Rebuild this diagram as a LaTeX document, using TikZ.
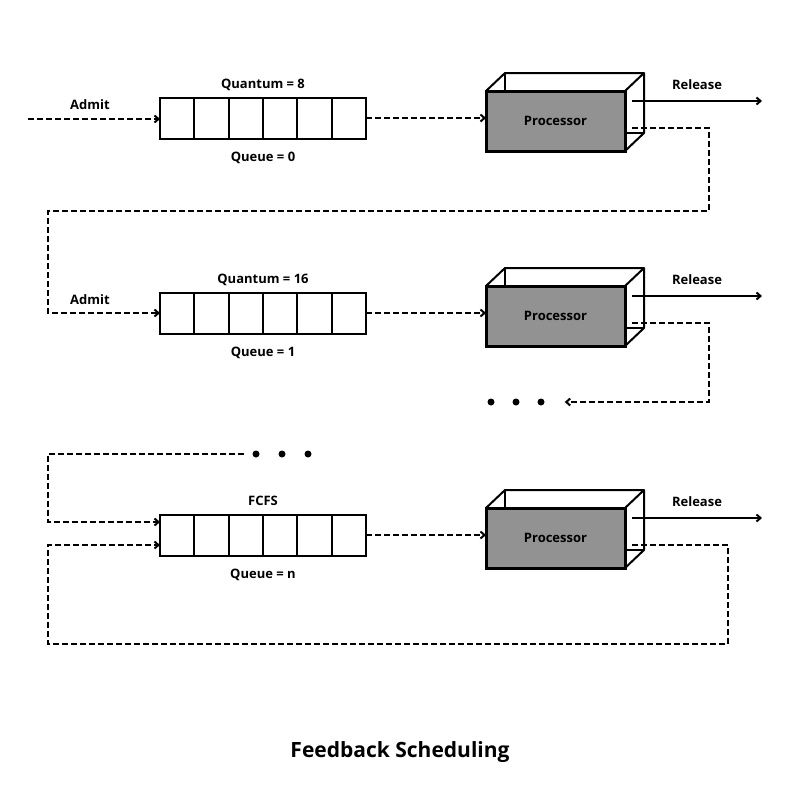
\documentclass[tikz,border=0pt]{standalone}
\usepackage{fontspec}
\setmainfont{Open Sans}
\usetikzlibrary{positioning,calc,arrows.meta}
\definecolor{cpugray}{HTML}{929292}
\tikzset{
  lbl/.style={font=\fontsize{13}{15}\selectfont\bfseries,inner sep=0pt},
  queuebox/.style={draw,line width=2pt,minimum width=206pt,minimum height=41pt,inner sep=0pt,outer sep=0pt},
  cpubox/.style={draw,line width=3pt,fill=cpugray,minimum width=139pt,minimum height=60pt,outer sep=0pt,
    font=\fontsize{13}{15}\selectfont\bfseries},
  backline/.style={line width=2pt,line join=round},
  flow/.style={line width=2pt,dash pattern=on 6pt off 3pt,-{Straight Barb[length=4pt,width=7pt]}},
  release/.style={line width=2pt,-{Straight Barb[length=4pt,width=7pt]}},
  dotmark/.style={circle,fill,inner sep=0pt,minimum size=7pt},
}
\begin{document}
\begin{tikzpicture}[x=1pt,y=-1pt]
  \useasboundingbox (0,0) rectangle (800,800);
  % queues and processors
  \foreach \n/\y in {0/118,1/313,2/535}{
    \node[queuebox] (q\n) at (263,\y) {};
    \foreach \i in {1,...,5}
      \draw[line width=2pt] ($(q\n.north west)!\i/6!(q\n.north east)$) -- ($(q\n.south west)!\i/6!(q\n.south east)$);
    \node[cpubox] (p\n) at (555.5,\y+3) {\raisebox{-3pt}{Processor}};
    \draw[backline] (p\n.north west) -- ++(19,-18) coordinate (b\n) -- ($(p\n.north east)+(19,-18)$)
      -- ($(p\n.south east)+(19,-18)$) -- (p\n.south east);
    \draw[backline] (p\n.north east) -- ++(19,-18);
    \draw[backline] (b\n) -- ++(0,18);
    \draw[backline] ($(p\n.south east)+(0,-18)$) -- ++(19,0);
    \draw[flow] (q\n.east) -- (q\n.east -| p\n.west);
    \coordinate (r\n) at ($(p\n.north east)+(137,10)$);
    \draw[release] ($(p\n.north east)+(7,10)$) -- (r\n)
      node[lbl,midway,above=10pt] {Release};
    \coordinate (s\n) at ($(p\n.south east)+(7,-23)$);
  }
  \node[lbl,above=7pt of q0] (qa0) {Quantum = 8};
  \node[lbl,above=7pt of q1] (qa1) {Quantum = 16};
  \node[lbl,above=9pt of q2] (qa2) {FCFS};
  \node[lbl,below=13pt of q0] (qb0) {Queue = 0};
  \node[lbl,below=13pt of q1] (qb1) {Queue = 1};
  \node[lbl,below=13pt of q2] (qb2) {Queue = n};
  % row 1 entry and feedback
  \coordinate (in0) at (28,119);
  \draw[flow] (in0) -- (in0 -| q0.west);
  \node[lbl] (ad0) at (90,105) {Admit};
  \coordinate (f0a) at (709,211);
  \coordinate (f0b) at (48,211);
  \draw[flow] (s0) -| (f0a) -- (f0b) |- (q1.west);
  \node[lbl] (ad1) at (90,300) {Admit};
  % row 2 feedback to dots
  \node[dotmark] (dA1) at (491,402) {};
  \node[dotmark] (dA2) at (516,402) {};
  \node[dotmark] (dA3) at (541,402) {};
  \coordinate (f1a) at (709,402);
  \draw[flow] (s1) -| (f1a) -- ([xshift=20pt]dA3.east);
  % row 3 inputs
  \node[dotmark] (dB1) at (256,454) {};
  \node[dotmark] (dB2) at (282,454) {};
  \node[dotmark] (dB3) at (308,454) {};
  \coordinate (f2a) at (48,454);
  \draw[flow] ([xshift=-8pt]dB1.west) -- (f2a) |- ($(q2.west)+(0,-13)$);
  \coordinate (f2b) at (728,644);
  \coordinate (f2c) at (48,644);
  \draw[flow] (s2) -| (f2b) -- (f2c) |- ($(q2.west)+(0,10)$);
  % title
  \node[font=\fontsize{21}{25}\selectfont\bfseries] (title) at (400,752) {Feedback Scheduling};
\end{tikzpicture}
\end{document}
